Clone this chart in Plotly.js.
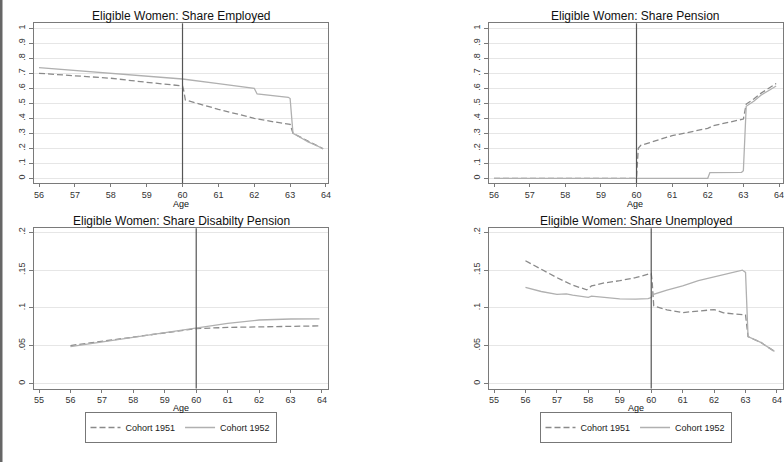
<!DOCTYPE html>
<html>
<head>
<meta charset="utf-8">
<script src="https://cdn.plot.ly/plotly-3.0.1.min.js"></script>
<style>
html,body{margin:0;padding:0;background:#fff;}
#chart{width:784px;height:462px;}
</style>
</head>
<body>
<div id="chart"></div>
<script>
// ---- Data ----
var cohortNames = ["Cohort 1951", "Cohort 1952"];
var panelTitles = [
  "Eligible Women: Share Employed",
  "Eligible Women: Share Pension",
  "Eligible Women: Share Disabilty Pension",
  "Eligible Women: Share Unemployed"
];

// Share employed
var ageEmp1951 = [56, 57, 58, 59, 60, 60.03, 60.08, 61, 62, 62.5, 63.0, 63.08, 63.3, 63.5, 63.75, 63.92];
var emp1951    = [0.700, 0.685, 0.667, 0.640, 0.616, 0.590, 0.522, 0.460, 0.400, 0.378, 0.360, 0.300, 0.272, 0.245, 0.218, 0.197];
var ageEmp1952 = [56, 57, 58, 59, 60, 61, 62, 62.08, 62.5, 62.8, 62.95, 63.0, 63.08, 63.3, 63.5, 63.75, 63.92];
var emp1952    = [0.738, 0.718, 0.699, 0.681, 0.662, 0.631, 0.600, 0.562, 0.550, 0.540, 0.540, 0.532, 0.300, 0.270, 0.243, 0.217, 0.196];

// Share pension
var agePen1951 = [56, 60, 60.05, 60.12, 61, 62, 62.15, 63.0, 63.08, 63.3, 63.5, 63.75, 63.92];
var pen1951    = [0, 0, 0.200, 0.220, 0.284, 0.333, 0.350, 0.395, 0.495, 0.530, 0.568, 0.605, 0.632];
var agePen1952 = [56, 62, 62.06, 62.5, 62.95, 63.0, 63.08, 63.3, 63.5, 63.75, 63.92];
var pen1952    = [0, 0, 0.038, 0.038, 0.040, 0.050, 0.480, 0.515, 0.555, 0.590, 0.615];

// Share disability pension
var ageDis  = [56, 57, 58, 59, 60, 61, 62, 63, 63.92];
var dis1951 = [0.0502, 0.0558, 0.0615, 0.0670, 0.0726, 0.0742, 0.0750, 0.0758, 0.0762];
var dis1952 = [0.0487, 0.0550, 0.0612, 0.0673, 0.0735, 0.0795, 0.0840, 0.0853, 0.0855];

// Share unemployed
var ageUnemp1951 = [56, 56.5, 57, 57.5, 57.95, 58.1, 58.5, 59, 59.5, 60, 60.03, 60.08, 60.5, 61, 61.5, 62, 62.3, 63, 63.08, 63.5, 63.92];
var unemp1951    = [0.1624, 0.151, 0.140, 0.130, 0.124, 0.129, 0.133, 0.136, 0.140, 0.1456, 0.135, 0.1027, 0.0973, 0.0938, 0.0960, 0.0978, 0.0934, 0.0907, 0.062, 0.054, 0.0425];
var ageUnemp1952 = [56, 56.5, 57, 57.3, 57.5, 58, 58.1, 58.5, 59, 59.5, 59.9, 60, 60.05, 60.5, 61, 61.5, 62, 62.5, 62.9, 63.0, 63.08, 63.5, 63.92];
var unemp1952    = [0.127, 0.1217, 0.118, 0.1186, 0.117, 0.114, 0.1155, 0.1137, 0.112, 0.1115, 0.1122, 0.1137, 0.1177, 0.1235, 0.129, 0.136, 0.141, 0.1465, 0.150, 0.147, 0.062, 0.054, 0.0425];

// Tick labels
var xTicksTop = [56, 57, 58, 59, 60, 61, 62, 63, 64];
var xTicksBottom = [55, 56, 57, 58, 59, 60, 61, 62, 63, 64];
var yTicksTop = [0, 0.1, 0.2, 0.3, 0.4, 0.5, 0.6, 0.7, 0.8, 0.9, 1];
var yTickTextTop = ["0", ".1", ".2", ".3", ".4", ".5", ".6", ".7", ".8", ".9", "1"];
var yTicksBottom = [0, 0.05, 0.1, 0.15, 0.2];
var yTickTextBottom = ["0", ".05", ".1", ".15", ".2"];
var cutoffAge = 60;

// ---- Styling ----
var FONT = "Liberation Sans, Arial, sans-serif";
var C1951 = "#8a8a8a", C1952 = "#b0b0b0";
var W = 784, H = 462;
function px(x){ return x / W; }
function py(y){ return 1 - y / H; }

var dom = {
  xl: [px(34), px(328)], xr: [px(489), px(783)],
  yt: [py(183.3), py(23.3)], yb: [py(388.5), py(228.3)]
};

function line1951(x, y, xa, ya, leg){
  return {x:x, y:y, xaxis:xa, yaxis:ya, type:"scatter", mode:"lines", name:cohortNames[0],
    line:{color:C1951, width:1.3, dash:"6px,3px"}, showlegend:!!leg, legend:leg||"legend", hoverinfo:"skip"};
}
function line1952(x, y, xa, ya, leg){
  return {x:x, y:y, xaxis:xa, yaxis:ya, type:"scatter", mode:"lines", name:cohortNames[1],
    line:{color:C1952, width:1.3}, showlegend:!!leg, legend:leg||"legend", hoverinfo:"skip"};
}

var traces = [
  line1951(ageEmp1951, emp1951, "x", "y"),
  line1952(ageEmp1952, emp1952, "x", "y"),
  line1951(agePen1951, pen1951, "x2", "y2"),
  line1952(agePen1952, pen1952, "x2", "y2"),
  line1951(ageDis, dis1951, "x3", "y3", "legend"),
  line1952(ageDis, dis1952, "x3", "y3", "legend"),
  line1951(ageUnemp1951, unemp1951, "x4", "y4", "legend2"),
  line1952(ageUnemp1952, unemp1952, "x4", "y4", "legend2")
];

function xaxisDef(domain, ticks, range, anchor){
  return {domain:domain, anchor:anchor, range:range, tickvals:ticks, ticktext:ticks.map(String),
    showgrid:false, zeroline:false, showline:true, mirror:true, linecolor:"#7a7a7a", linewidth:1,
    ticks:"outside", ticklen:3, tickcolor:"#7a7a7a", ticklabeloverflow:"allow",
    tickfont:{family:FONT, size:9, color:"#333"}};
}
function yaxisDef(domain, ticks, text, range, anchor){
  return {domain:domain, anchor:anchor, range:range, tickvals:ticks, ticktext:text, tickangle:-90,
    showgrid:true, gridcolor:"#e6e6e6", gridwidth:1, zeroline:false, showline:true, mirror:true,
    linecolor:"#7a7a7a", linewidth:1, ticks:"outside", ticklen:4, tickcolor:"#7a7a7a",
    tickfont:{family:FONT, size:9, color:"#333"}};
}

var xRangeTop = [56 - 5/35.75, 64 + 2/35.75];
var xRangeTopRight = [56 - 5/35.6, 64 + 4/35.6];
var xRangeBot = [55 - 5/31.33, 64 + 6/31.33];
var yRangeTop = [-0.0333, 1.0333];
var yRangeBot = [-5/760, 0.2 + 4/760];

function vline(xa, ya){
  return {type:"line", xref:xa, yref:ya + " domain", x0:cutoffAge, x1:cutoffAge, y0:0, y1:1,
    line:{color:"#555", width:1.2}};
}

function ann(text, x, y, size){
  return {text:text, x:px(x), y:py(y), xref:"paper", yref:"paper", showarrow:false,
    xanchor:"center", yanchor:"middle", font:{family:FONT, size:size, color:"#111"}};
}

var legendStyle = function(xc){
  return {orientation:"h", x:px(xc), xanchor:"center", y:py(412), yanchor:"top",
    bordercolor:"#777", borderwidth:1, bgcolor:"#fff",
    font:{family:FONT, size:9, color:"#222"}, itemwidth:30, tracegroupgap:0};
};

var layout = {
  width:W, height:H, margin:{l:0, r:0, t:0, b:0}, paper_bgcolor:"#fff", plot_bgcolor:"#fff",
  font:{family:FONT},
  xaxis: xaxisDef(dom.xl, xTicksTop, xRangeTop, "y"),
  yaxis: yaxisDef(dom.yt, yTicksTop, yTickTextTop, yRangeTop, "x"),
  xaxis2: xaxisDef(dom.xr, xTicksTop, xRangeTopRight, "y2"),
  yaxis2: yaxisDef(dom.yt, yTicksTop, yTickTextTop, yRangeTop, "x2"),
  xaxis3: xaxisDef(dom.xl, xTicksBottom, xRangeBot, "y3"),
  yaxis3: yaxisDef(dom.yb, yTicksBottom, yTickTextBottom, yRangeBot, "x3"),
  xaxis4: xaxisDef(dom.xr, xTicksBottom, xRangeBot, "y4"),
  yaxis4: yaxisDef(dom.yb, yTicksBottom, yTickTextBottom, yRangeBot, "x4"),
  legend: legendStyle(180.5),
  legend2: legendStyle(635.5),
  shapes: [
    vline("x", "y"), vline("x2", "y2"), vline("x3", "y3"), vline("x4", "y4"),
    {type:"rect", xref:"paper", yref:"paper", x0:0, x1:px(2.5), y0:0, y1:1,
     fillcolor:"#666", line:{width:0}}
  ],
  annotations: [
    ann(panelTitles[0], 181, 16, 12),
    ann(panelTitles[1], 635, 16, 12),
    ann(panelTitles[2], 181, 221, 12),
    ann(panelTitles[3], 636, 221, 12),
    ann("Age", 181, 204, 9),
    ann("Age", 635, 204, 9),
    ann("Age", 181, 408, 9),
    ann("Age", 636, 408, 9)
  ],
  showlegend:true
};

Plotly.newPlot("chart", traces, layout, {staticPlot:true, displayModeBar:false});
</script>
</body>
</html>
